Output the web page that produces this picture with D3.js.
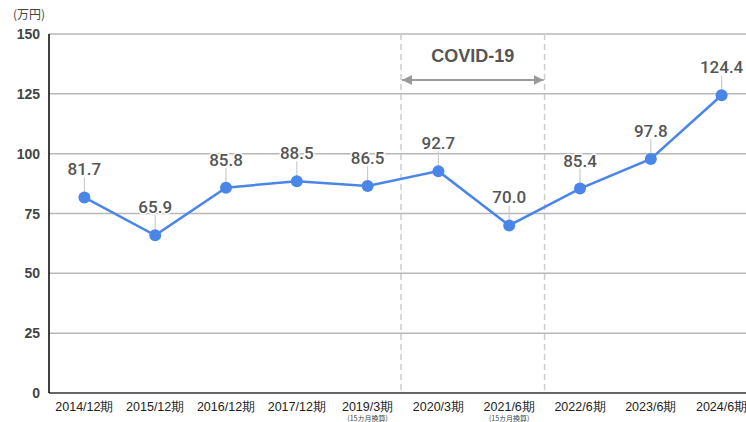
<!DOCTYPE html>
<html>
<head>
<meta charset="utf-8">
<script src="https://cdn.jsdelivr.net/npm/d3@7"></script>
<style>
  body { margin: 0; background: #fff; }
  svg { display: block; font-family: "Liberation Sans", Arial, sans-serif; }
</style>
</head>
<body>
<svg id="chart" width="746" height="422"></svg>
<script>
// data
var periods = ['2014/12期', '2015/12期', '2016/12期', '2017/12期', '2019/3期', '2020/3期', '2021/6期', '2022/6期', '2023/6期', '2024/6期']
var notes = ['', '', '', '', '(15カ月換算)', '', '(15カ月換算)', '', '', '']
var values = [81.7, 65.9, 85.8, 88.5, 86.5, 92.7, 70.0, 85.4, 97.8, 124.4]
var yTicks = [0, 25, 50, 75, 100, 125, 150]
var covidRange = ['2020/3期', '2021/6期']

var width = 746, height = 422
var margin = { top: 34, right: -11, bottom: 29, left: 49 }

var svg = d3.select('#chart')

var x = d3.scaleBand()
  .domain(periods)
  .range([margin.left, width - margin.right])

var y = d3.scaleLinear()
  .domain([0, 150])
  .range([height - margin.bottom, margin.top])

var colorLine = '#4a86e8'

// gridlines
svg.append('g')
  .selectAll('line')
  .data(yTicks.filter(function (d) { return d > 0 }))
  .enter().append('line')
  .attr('x1', margin.left)
  .attr('x2', width)
  .attr('y1', function (d) { return y(d) })
  .attr('y2', function (d) { return y(d) })
  .attr('stroke', '#b7b7b7')
  .attr('stroke-width', 1.5)

// y tick labels
svg.append('g')
  .selectAll('text')
  .data(yTicks)
  .enter().append('text')
  .attr('x', 40)
  .attr('y', function (d) { return y(d) })
  .attr('dy', '0.36em')
  .attr('text-anchor', 'end')
  .attr('font-size', 14)
  .attr('font-weight', 'bold')
  .attr('fill', '#444')
  .text(function (d) { return d })

svg.append('text')
  .attr('x', 13)
  .attr('y', 19)
  .attr('font-size', 12)
  .attr('font-family', '"Noto Sans CJK JP", sans-serif')
  .attr('fill', '#444')
  .text('(万円)')

// covid lines
var covidX = [x(covidRange[0]) - 2, x(covidRange[1]) + x.bandwidth()]
svg.append('g')
  .selectAll('line')
  .data(covidX)
  .enter().append('line')
  .attr('x1', function (d) { return d })
  .attr('x2', function (d) { return d })
  .attr('y1', margin.top)
  .attr('y2', y(0))
  .attr('stroke', '#cccccc')
  .attr('stroke-width', 1.5)
  .attr('stroke-dasharray', '6,4')

var defs = svg.append('defs')
defs.append('marker')
  .attr('id', 'arrow')
  .attr('viewBox', '0 0 10 10')
  .attr('refX', 10).attr('refY', 5)
  .attr('markerWidth', 5).attr('markerHeight', 5)
  .attr('orient', 'auto-start-reverse')
  .append('path')
  .attr('d', 'M0,0L10,5L0,10Z')
  .attr('fill', '#999')

svg.append('line')
  .attr('x1', covidX[0] + 1)
  .attr('x2', covidX[1] - 1)
  .attr('y1', 80).attr('y2', 80)
  .attr('stroke', '#999')
  .attr('stroke-width', 2)
  .attr('marker-start', 'url(#arrow)')
  .attr('marker-end', 'url(#arrow)')

svg.append('text')
  .attr('x', (covidX[0] + covidX[1]) / 2)
  .attr('y', 62)
  .attr('text-anchor', 'middle')
  .attr('font-size', 18)
  .attr('font-weight', 'bold')
  .attr('fill', '#555')
  .text('COVID-19')

// axes lines
svg.append('line')
  .attr('x1', margin.left).attr('x2', width)
  .attr('y1', y(0)).attr('y2', y(0))
  .attr('stroke', '#333').attr('stroke-width', 1.5)
svg.append('line')
  .attr('x1', margin.left).attr('x2', margin.left)
  .attr('y1', margin.top).attr('y2', y(0))
  .attr('stroke', '#000').attr('stroke-width', 1.5)

// x labels
var xl = svg.append('g')
xl.selectAll('text.period')
  .data(periods)
  .enter().append('text')
  .attr('class', 'period')
  .attr('x', function (d) { return x(d) + x.bandwidth() / 2 })
  .attr('y', 410.5)
  .attr('text-anchor', 'middle')
  .attr('font-size', 12.5)
  .attr('fill', '#222')
  .text(function (d) { return d })
xl.selectAll('text.note')
  .data(periods)
  .enter().append('text')
  .attr('class', 'note')
  .attr('x', function (d) { return x(d) + x.bandwidth() / 2 })
  .attr('y', 421)
  .attr('text-anchor', 'middle')
  .attr('font-size', 7)
  .attr('font-family', '"Noto Sans CJK JP", sans-serif')
  .attr('fill', '#444')
  .text(function (d, i) { return notes[i] })

// leaders
var cx = function (d, i) { return x(periods[i]) + x.bandwidth() / 2 }
svg.append('g')
  .selectAll('line')
  .data(values)
  .enter().append('line')
  .attr('x1', cx).attr('x2', cx)
  .attr('y1', function (d) { return y(d) - 20 })
  .attr('y2', function (d) { return y(d) })
  .attr('stroke', '#cccccc')
  .attr('stroke-width', 1.2)

// line
var line = d3.line()
  .x(cx)
  .y(function (d) { return y(d) })
svg.append('path')
  .datum(values)
  .attr('d', line)
  .attr('fill', 'none')
  .attr('stroke', colorLine)
  .attr('stroke-width', 2.5)

svg.append('g')
  .selectAll('circle')
  .data(values)
  .enter().append('circle')
  .attr('cx', cx)
  .attr('cy', function (d) { return y(d) })
  .attr('r', 6)
  .attr('fill', colorLine)

// value labels
svg.append('g')
  .selectAll('text')
  .data(values)
  .enter().append('text')
  .attr('x', cx)
  .attr('y', function (d) { return y(d) - 22 })
  .attr('text-anchor', 'middle')
  .attr('font-family', 'Roboto, sans-serif')
  .attr('font-size', 17)
  .attr('font-weight', 500)
  .attr('fill', '#555')
  .attr('stroke', '#fff')
  .attr('stroke-width', 3)
  .attr('stroke-linejoin', 'round')
  .attr('paint-order', 'stroke')
  .text(function (d) { return d.toFixed(1) })
</script>
</body>
</html>
